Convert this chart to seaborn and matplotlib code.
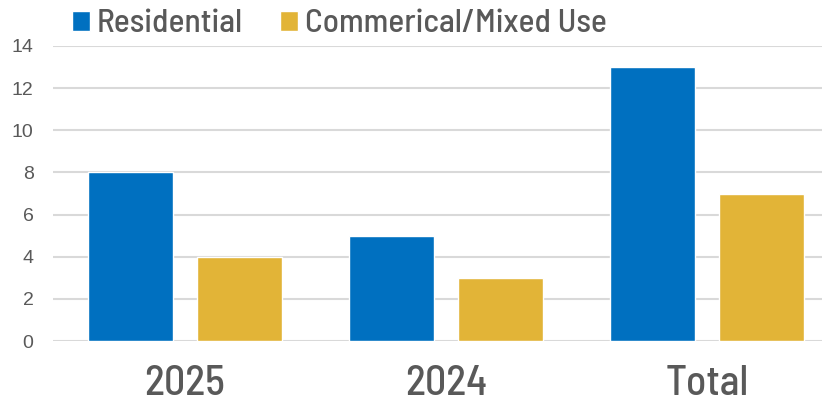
import matplotlib
matplotlib.use("Agg")
import matplotlib.pyplot as plt
import seaborn as sns
import pandas as pd
from matplotlib import font_manager as fm

categories = ["2025", "2024", "Total"]
series_names = ["Residential", "Commerical/Mixed Use"]
residential = [8, 5, 13]
commercial = [4, 3, 7]
yticks = [0, 2, 4, 6, 8, 10, 12, 14]

df = pd.DataFrame({
    "cat": categories * 2,
    "series": [series_names[0]] * 3 + [series_names[1]] * 3,
    "value": residential + commercial,
})

sns.set_theme(style="white")
names = {f.name for f in fm.fontManager.ttflist}
narrow = "DejaVu Sans"
for cand in ["Barlow Semi Condensed", "Roboto Condensed", "PT Sans Narrow", "Liberation Sans Narrow"]:
    if cand in names:
        narrow = cand
        break
plt.rcParams["font.family"] = ["Liberation Sans", "DejaVu Sans"]

fig = plt.figure(figsize=(8.27, 4.07), dpi=100)
W, H = 827, 407
left, right, top, bottom = 53, 822, 46, 341
ax = fig.add_axes([left / W, (H - bottom) / H, (right - left) / W, (bottom - top) / H])

sns.barplot(data=df, x="cat", y="value", hue="series", order=categories,
            hue_order=series_names, palette=["#0070C0", "#E2B437"],
            width=0.835, gap=0.22, ax=ax, saturation=1, legend=True)

ax.set_ylim(0, 14)
ax.set_xlim(-0.504, 2.44)
ax.set_yticks(yticks)
ax.grid(axis="y", color="#D9D9D9", linewidth=1.5, zorder=0)
ax.set_axisbelow(True)
for s in ax.spines.values():
    s.set_visible(False)
ax.set_xlabel("")
ax.set_ylabel("")
ax.tick_params(axis="y", length=0, pad=14, labelsize=14, labelcolor="#595959")
ax.tick_params(axis="x", length=0, pad=17, labelcolor="#595959")
for lab in ax.get_xticklabels():
    lab.set_fontfamily(narrow)
    lab.set_fontsize(30)
    lab.set_fontweight("medium")

handles, labels = ax.get_legend_handles_labels()
ax.legend(handles, labels, loc="center left",
          bbox_to_anchor=((72 - left) / (right - left), (bottom - 24) / (bottom - top)),
          ncol=2, frameon=False, handlelength=0.55, handleheight=0.55,
          handletextpad=0.2, columnspacing=1.1, borderaxespad=0, borderpad=0,
          prop={"family": narrow, "size": 24, "weight": "medium"}, labelcolor="#595959")

fig.savefig("out.png", dpi=100)
